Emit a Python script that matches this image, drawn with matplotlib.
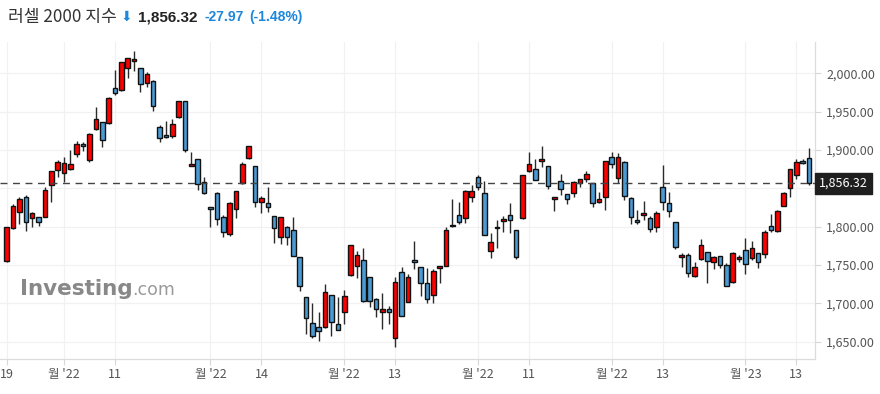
import numpy as np
import matplotlib
matplotlib.use("Agg")
import matplotlib.pyplot as plt

plt.rcParams['font.family'] = ['Noto Sans CJK KR', 'DejaVu Sans']

# Russell 2000 daily candles, 2022-07-19 .. 2023-01-18 (trading days)
opens = [1755.2, 1797.8, 1819.5, 1838.2, 1810.9, 1812.2, 1813.0, 1853.9, 1873.4, 1869.5,
         1874.7, 1894.3, 1907.4, 1886.9, 1926.9, 1936.0, 1934.7, 1980.4, 1978.2, 2006.5,
         2015.6, 2006.5, 1986.9, 1990.4, 1929.5, 1919.1, 1918.2, 1943.4, 1963.4, 1879.1,
         1888.2, 1857.8, 1825.2, 1843.4, 1812.2, 1790.0, 1822.6, 1856.5, 1889.1, 1879.1,
         1831.7, 1830.4, 1813.9, 1786.1, 1800.0, 1795.7, 1760.0, 1707.9, 1674.0, 1668.8,
         1668.8, 1710.9, 1673.1, 1688.3, 1736.6, 1748.7, 1756.1, 1734.0, 1705.3, 1688.3,
         1692.2, 1654.4, 1740.5, 1701.8, 1756.5, 1747.0, 1726.1, 1710.5, 1745.7, 1749.2,
         1800.4, 1814.8, 1810.9, 1838.3, 1864.4, 1843.5, 1767.8, 1800.0, 1807.0, 1814.8,
         1795.7, 1810.9, 1872.2, 1874.8, 1885.2, 1878.7, 1835.7, 1860.0, 1842.2, 1843.5,
         1856.5, 1862.6, 1856.5, 1831.7, 1838.3, 1890.4, 1863.0, 1884.8, 1837.8, 1808.7,
         1814.8, 1810.9, 1799.1, 1851.3, 1830.4, 1805.7, 1760.0, 1763.5, 1735.7, 1757.4,
         1766.5, 1753.9, 1761.3, 1749.6, 1727.4, 1757.4, 1769.6, 1759.2, 1765.2, 1764.4,
         1800.4, 1793.9, 1827.0, 1850.0, 1867.4, 1885.2, 1889.1]
highs = [1800.0, 1829.5, 1839.0, 1841.3, 1818.7, 1812.5, 1852.1, 1872.5, 1886.9, 1891.3,
         1899.9, 1911.7, 1910.4, 1922.6, 1956.5, 1936.5, 1969.5, 2004.3, 2014.5, 2019.8,
         2029.1, 2007.0, 2001.2, 1991.0, 1932.6, 1937.9, 1940.4, 1963.8, 1963.8, 1896.9,
         1888.6, 1865.2, 1825.6, 1845.6, 1815.2, 1832.5, 1846.5, 1883.9, 1905.6, 1879.5,
         1840.0, 1851.3, 1814.3, 1812.6, 1800.4, 1812.2, 1760.4, 1708.3, 1700.9, 1689.2,
         1724.8, 1711.3, 1708.7, 1717.4, 1776.1, 1768.3, 1772.2, 1734.4, 1706.6, 1713.1,
         1696.6, 1733.9, 1747.9, 1737.9, 1781.3, 1747.4, 1745.7, 1744.4, 1749.0, 1800.0,
         1836.1, 1831.7, 1847.8, 1854.4, 1867.0, 1860.0, 1791.3, 1808.7, 1813.9, 1830.4,
         1796.1, 1867.4, 1897.8, 1887.8, 1905.2, 1879.1, 1838.7, 1868.7, 1842.6, 1859.1,
         1862.1, 1872.6, 1856.9, 1844.8, 1885.6, 1897.0, 1896.5, 1885.2, 1838.2, 1821.7,
         1833.5, 1813.9, 1820.4, 1880.4, 1844.8, 1806.1, 1765.2, 1765.2, 1754.4, 1783.5,
         1766.9, 1761.8, 1761.7, 1752.2, 1767.4, 1763.1, 1784.8, 1781.3, 1765.6, 1795.7,
         1816.5, 1821.7, 1844.8, 1875.2, 1887.8, 1887.8, 1902.2]
lows = [1754.5, 1797.0, 1804.0, 1794.8, 1799.1, 1800.9, 1812.5, 1832.6, 1865.2, 1858.7,
        1874.0, 1890.4, 1898.6, 1883.9, 1926.0, 1904.3, 1934.0, 1971.7, 1977.5, 1993.4,
        2003.4, 1975.2, 1981.7, 1951.2, 1910.8, 1915.2, 1915.2, 1942.1, 1897.8, 1878.6,
        1847.8, 1842.1, 1799.1, 1802.1, 1786.1, 1787.8, 1810.9, 1856.0, 1888.7, 1825.2,
        1817.4, 1818.7, 1778.3, 1777.0, 1776.1, 1761.8, 1716.6, 1660.1, 1654.4, 1651.4,
        1668.4, 1657.5, 1664.9, 1672.7, 1736.2, 1732.6, 1702.2, 1695.7, 1682.7, 1666.1,
        1672.7, 1642.7, 1683.1, 1701.4, 1744.4, 1710.0, 1700.0, 1700.9, 1727.0, 1748.8,
        1800.0, 1803.9, 1804.4, 1832.6, 1847.8, 1788.7, 1758.7, 1771.8, 1793.5, 1791.3,
        1757.4, 1810.5, 1871.8, 1860.5, 1877.4, 1848.7, 1820.4, 1841.3, 1829.6, 1839.1,
        1851.3, 1858.7, 1826.1, 1831.3, 1821.7, 1876.1, 1856.5, 1834.8, 1803.5, 1803.5,
        1808.7, 1793.5, 1793.1, 1821.7, 1812.2, 1770.9, 1747.0, 1734.0, 1734.8, 1757.0,
        1727.0, 1744.4, 1745.7, 1722.2, 1727.0, 1754.4, 1738.3, 1756.5, 1745.7, 1758.7,
        1793.5, 1793.1, 1826.6, 1839.1, 1861.7, 1881.7, 1854.4]
closes = [1799.1, 1826.9, 1835.6, 1806.5, 1817.4, 1805.6, 1847.4, 1872.1, 1883.9, 1882.6,
          1881.3, 1907.4, 1904.7, 1920.4, 1939.9, 1913.0, 1967.3, 1973.9, 2014.3, 2019.5,
          2018.2, 1986.0, 1999.1, 1957.3, 1915.2, 1916.5, 1933.4, 1963.4, 1900.0, 1881.7,
          1855.6, 1843.4, 1822.6, 1809.5, 1792.6, 1830.4, 1846.1, 1881.3, 1905.2, 1831.7,
          1837.0, 1825.2, 1797.8, 1812.2, 1787.0, 1762.2, 1722.6, 1680.5, 1657.4, 1663.5,
          1714.4, 1675.3, 1665.3, 1709.6, 1775.7, 1762.6, 1702.6, 1702.6, 1692.2, 1692.2,
          1688.3, 1727.4, 1683.5, 1734.8, 1753.5, 1726.1, 1705.2, 1741.8, 1748.7, 1795.7,
          1802.6, 1805.7, 1846.1, 1846.1, 1851.3, 1789.1, 1779.6, 1797.8, 1809.6, 1808.3,
          1760.0, 1867.0, 1881.3, 1860.9, 1887.8, 1853.0, 1838.3, 1849.1, 1835.7, 1858.7,
          1861.7, 1868.3, 1830.4, 1835.7, 1885.2, 1881.7, 1891.3, 1840.0, 1812.2, 1806.1,
          1817.4, 1796.5, 1817.4, 1831.7, 1820.0, 1773.9, 1762.6, 1739.2, 1747.0, 1775.7,
          1754.8, 1760.0, 1749.6, 1722.6, 1765.2, 1760.5, 1750.9, 1771.8, 1753.5, 1792.6,
          1795.7, 1820.9, 1843.5, 1874.8, 1884.8, 1882.6, 1856.32]

tick_pos = [0, 9, 17, 32, 40, 53, 61, 74, 82, 95, 103, 116, 124]
tick_labels = ['19', "월 '22", '11', "월 '22", '14', "월 '22", '13',
               "월 '22", '11', "월 '22", '13', "월 '23", '13']
y_ticks = [1650, 1700, 1750, 1800, 1850, 1900, 1950, 2000]

last_price = 1856.32
change = -27.97
change_pct = -1.48

UP = '#ff0000'
DOWN = '#4a9ad4'
BLUE_TXT = '#1d87dc'

o = np.array(opens)
h = np.array(highs)
l = np.array(lows)
c = np.array(closes)
x = np.arange(len(o))

fig = plt.figure(figsize=(8.8, 3.94), dpi=100)
ax = fig.add_axes([0.0, 0.0901, 0.926, 0.8033])

# grid
for t in tick_pos:
    ax.axvline(t, color='#f1f1f1', lw=0.9, zorder=0)
for yv in y_ticks:
    ax.axhline(yv, color='#f1f1f1', lw=0.9, zorder=0)

# watermark
wm = ax.text(0.0245, 0.2006, 'Investing', transform=ax.transAxes, fontsize=15.5,
             fontweight='heavy', color='#888888', family='DejaVu Sans',
             va='baseline', ha='left', zorder=1)
ax.annotate('.com', xy=(1, 0.2006), xycoords=(wm, ax.transAxes), fontsize=12.5,
            color='#9a9a9a', family='DejaVu Sans', va='baseline', ha='left', zorder=1)

# candles
up = c >= o
colors = np.where(up, UP, DOWN)
body_lo = np.minimum(o, c)
body_h = np.maximum(np.abs(c - o), 1.2)
ax.vlines(x, l, h, color='#2a2a2a', lw=1.0, zorder=2)
ax.bar(x, body_h, bottom=body_lo, width=0.72, color=colors,
       edgecolor='#111111', linewidth=1.0, zorder=3)

# last price line
ax.axhline(last_price, color='#444444', lw=1.0, ls=(0, (5, 4)), zorder=4)

ax.set_xlim(-1.05, 126.9)
ax.set_ylim(1628.1, 2040.8)

ax.set_xticks(tick_pos)
ax.set_xticklabels(tick_labels)
ax.yaxis.tick_right()
ax.set_yticks(y_ticks)
# the label under the last-price box is hidden, as on the site
ax.set_yticklabels(['' if abs(v - last_price) < 20 else '{:,.2f}'.format(v) for v in y_ticks])
ax.tick_params(axis='both', colors='#d8d8d8', labelcolor='#555555', labelsize=9,
               length=4, width=0.8)
ax.tick_params(axis='y', pad=4)
ax.tick_params(axis='x', pad=3)

for s in ['top', 'left']:
    ax.spines[s].set_visible(False)
for s in ['right', 'bottom']:
    ax.spines[s].set_color('#dcdcdc')
    ax.spines[s].set_linewidth(0.9)

# last price label on the axis
ax.annotate('{:,.2f}'.format(last_price), xy=(1.0, last_price),
            xycoords=('axes fraction', 'data'), xytext=(3, 0),
            textcoords='offset points', va='center', ha='left',
            fontsize=9, color='white',
            bbox=dict(boxstyle='square,pad=0.3', fc='#1f1f1f', ec='#1f1f1f'))

# header
t1 = fig.text(8 / 880, 1 - 17 / 394, '러셀 2000 지수', fontsize=12.3, color='#333333',
              va='center', ha='left')
t2 = ax.annotate('⬇', xy=(1, 0.5), xycoords=t1, xytext=(3, 0), textcoords='offset points',
                 fontsize=10, color=BLUE_TXT, va='center', ha='left',
                 family=['DejaVu Sans', 'Noto Sans CJK KR'], annotation_clip=False)
t3 = ax.annotate('{:,.2f}'.format(last_price), xy=(1, 0.5), xycoords=t2, xytext=(4, 0),
                 textcoords='offset points', fontsize=11, fontweight='bold',
                 color='#222222', va='center', ha='left', family='Liberation Sans',
                 annotation_clip=False)
t4 = ax.annotate('{:.2f}'.format(change), xy=(1, 0.5), xycoords=t3, xytext=(5, 0),
                 textcoords='offset points', fontsize=10, fontweight='bold',
                 color=BLUE_TXT, va='center', ha='left', family='Liberation Sans',
                 annotation_clip=False)
ax.annotate('({:.2f}%)'.format(change_pct), xy=(1, 0.5), xycoords=t4, xytext=(4, 0),
            textcoords='offset points', fontsize=10, fontweight='bold',
            color=BLUE_TXT, va='center', ha='left', family='Liberation Sans',
            annotation_clip=False)

fig.savefig('out.png', dpi=100, facecolor='white')
